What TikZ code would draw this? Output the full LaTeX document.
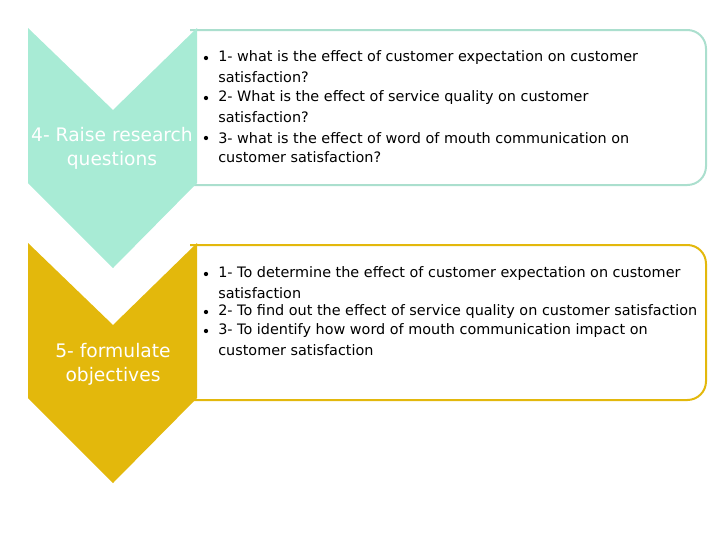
\documentclass[tikz,border=0pt]{standalone}
\usepackage{fontspec}
\setmainfont{DejaVu Sans}
\definecolor{mint}{HTML}{A8EBD5}
\definecolor{gold}{HTML}{E3B80C}
\begin{document}
\begin{tikzpicture}[x=0.75pt,y=-0.75pt,
  ln/.style={anchor=west,inner sep=0pt,font=\fontsize{10.8}{12}\selectfont,text=black},
  bul/.style={circle,fill=black,inner sep=0pt,minimum size=3.2pt},
  lab/.style={align=center,text=white,font=\fontsize{14}{18}\selectfont,inner sep=0pt}]
\useasboundingbox (0,0) rectangle (720,540);
% boxes
\draw[mint!85!gray!90,line width=1.5pt,fill=white,rounded corners=14pt]
  (190,30) -- (706,30) -- (706,185) -- (190,185);
\draw[gold,line width=1.5pt,fill=white,rounded corners=14pt]
  (190,245) -- (706,245) -- (706,400) -- (190,400);
% chevrons
\fill[mint] (28,28) -- (113,110) -- (197,28) -- (197,183) -- (113,268) -- (28,183) -- cycle;
\fill[gold] (28,243) -- (113,325) -- (197,243) -- (197,398) -- (113,483) -- (28,398) -- cycle;
\node[lab] (l4) at (112,148) {4- Raise research\\questions};
\node[lab] (l5) at (113,364) {5- formulate\\objectives};
% green text
\node[bul] (b1) at (206,58) {};
\node[ln] (t1) at (218,58) {1- what is the effect of customer expectation on customer};
\node[ln] (t1b) at (218,77) {satisfaction?};
\node[bul] (b2) at (206,98) {};
\node[ln] (t2) at (218,98) {2- What is the effect of service quality on customer};
\node[ln] (t2b) at (218,117) {satisfaction?};
\node[bul] (b3) at (206,138) {};
\node[ln] (t3) at (218,138) {3- what is the effect of word of mouth communication on};
\node[ln] (t3b) at (218,157) {customer satisfaction?};
% gold text
\node[bul] (c1) at (206,274) {};
\node[ln] (u1) at (218,274) {1- To determine the effect of customer expectation on customer};
\node[ln] (u1b) at (218,293) {satisfaction};
\node[bul] (c2) at (206,312) {};
\node[ln] (u2) at (218,312) {2- To find out the effect of service quality on customer satisfaction};
\node[bul] (c3) at (206,331) {};
\node[ln] (u3) at (218,331) {3- To identify how word of mouth communication impact on};
\node[ln] (u3b) at (218,350) {customer satisfaction};
\end{tikzpicture}
\end{document}
